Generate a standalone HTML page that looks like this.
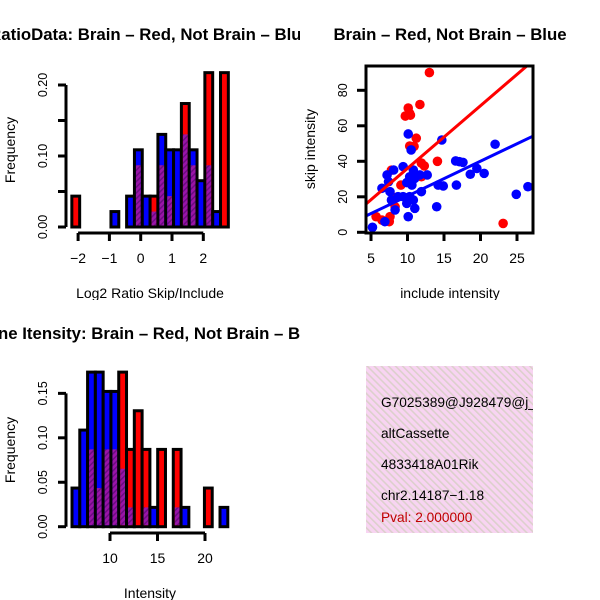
<!DOCTYPE html>
<html><head><meta charset="utf-8"><style>
html,body{margin:0;padding:0;background:#fff;}
svg{display:block;font-family:"Liberation Sans",sans-serif;}
</style></head><body>
<svg id="chart" width="600" height="600" viewBox="0 0 600 600" xmlns="http://www.w3.org/2000/svg">
<defs>
<pattern id="purp" patternUnits="userSpaceOnUse" width="4" height="4" patternTransform="rotate(45)">
<rect width="4" height="4" fill="#9a14a8"/><rect width="1.5" height="4" fill="#6c0c82"/></pattern>
<pattern id="pink" patternUnits="userSpaceOnUse" width="5" height="5" patternTransform="rotate(-45)">
<rect width="5" height="5" fill="#f8d4f2"/><rect width="1.6" height="5" fill="#dcd0cc"/></pattern>
<clipPath id="c1"><rect x="0" y="0" width="300" height="300"/></clipPath>
<clipPath id="c2"><rect x="300" y="0" width="300" height="300"/></clipPath>
<clipPath id="c3"><rect x="0" y="300" width="300" height="300"/></clipPath>
<clipPath id="c4"><rect x="366" y="366" width="167" height="167"/></clipPath>
<clipPath id="c2i"><rect x="366" y="66" width="167" height="167"/></clipPath>
</defs>
<g id="p1" clip-path="url(#c1)"></g>
<g id="p2" clip-path="url(#c2)"></g>
<g id="p3" clip-path="url(#c3)"></g>
<g id="p4">
<rect x="366" y="366" width="167" height="167" fill="url(#pink)"/>
<g clip-path="url(#c4)" font-size="13.7">
<text x="381" y="407">G7025389@J928479@j_</text>
<text x="381" y="438">altCassette</text>
<text x="381" y="469">4833418A01Rik</text>
<text x="381" y="500">chr2.14187−1.18</text>
<text x="381" y="522" fill="#c00000">Pval: 2.000000</text>
</g></g>
</svg>
<script>
// ---- Panel 1: log2 ratio histogram ----
const ratioStart = -2.2;
const ratioWidth = 0.25;
const ratioRed  = [2,0,0,0,0,0,0,0,4,0,2,4,2,0,8,4,0,10,0,10];
const ratioBlue = [0,0,0,0,0,1,0,2,5,2,1,6,5,5,6,5,3,4,1,0];
const ratioXTicks = [-2,-1,0,1,2];
const ratioXTickLabels = ["−2","−1","0","1","2"];
const ratioYTicks = [0,0.05,0.10,0.15,0.20];
const ratioYTickLabels = ["0.00","","0.10","","0.20"];
// ---- Panel 3: intensity histogram ----
const intStart = 6.0;
const intWidth = 0.82;
const intRed  = [0,0,4,2,4,4,8,4,6,4,0,4,0,4,0,0,0,2,0,0];
const intBlue = [2,5,8,8,7,7,3,1,0,1,1,0,0,1,1,0,0,0,0,1];
const intXTicks = [10,15,20];
const intXTickLabels = ["10","15","20"];
const intYTicks = [0,0.05,0.10,0.15];
const intYTickLabels = ["0.00","0.05","0.10","0.15"];
const countUnit = 1/46;
// ---- Panel 2: scatter ----
const redX = [13.0,10.1,10.3,9.7,10.4,11.7,11.2,10.3,10.9,14.1,11.9,12.3,11.9,9.1,8.1,8.3,5.7,6.5,7.5,7.6,23.1,7.8];
const redY = [90,70,67,65.5,66,72,53,48.6,48.4,40,39,37.4,31.3,26.6,19.7,14.4,8.8,6.9,6,8.8,5,35];
const blueX = [10.1,10.5,14.7,22.0,9.4,8.1,7.2,7.4,10.8,11.7,12.7,11,10.3,9.9,10.6,16.6,17.1,17.6,18.6,19.5,20.5,14.2,14.9,16.7,11.9,10.3,9.4,8.7,7.8,10.8,9.9,11,14,8.3,10.1,6.9,5.2,24.9,26.5,6.5,7.6];
const blueY = [55.4,46.4,52,49.6,37,35.1,32.3,28.5,35.1,32.3,32.3,30.4,31.3,28,26.6,40.2,39.8,39.4,32.7,36,33.2,26.6,26.1,26.6,22.9,20.1,20.1,20.1,18.2,18.2,16.3,13.5,14.4,12.6,8.8,6,2.8,21.4,25.7,24.8,22.9];
const fitIntercept = [0.7, 0.75];
const fitSlope = [3.53, 1.965];
const fitColor = ["#ff0000","#0000ff"];
const scXTicks = [5,10,15,20,25];
const scYTicks = [0,20,40,60,80];

const NS="http://www.w3.org/2000/svg";
const TICK_FS=14, YTICK_FS=12.5, AX_FS=14, TITLE_FS=16.8;
function mk(parent,tag,attrs){const e=document.createElementNS(NS,tag);for(const k in attrs)e.setAttribute(k,attrs[k]);parent.appendChild(e);return e;}
function txt(parent,x,y,s,opts){const e=mk(parent,'text',Object.assign({x:x,y:y},opts||{}));e.textContent=s;return e;}

function histogram(g, start, width, red, blue, xs, ys, xTicks, xLabels, yTicks, yLabels, axisY, prefix){
  const base=ys(0);
  for(let k=0;k<red.length;k++){
    const r=red[k]*countUnit, b=blue[k]*countUnit;
    if(r===0&&b===0) continue;
    const x0=xs(start+k*width), x1=xs(start+(k+1)*width);
    const mx=Math.max(r,b), mn=Math.min(r,b);
    const bar=mk(g,'rect',{x:x0,y:ys(mx),width:x1-x0,height:base-ys(mx),fill:r>=b?'#ff0000':'#0000ff',stroke:'#000','stroke-width':3});
    
    
    if(mn>0){
      const ov=mk(g,'rect',{x:x0+1.5,y:ys(mn),width:x1-x0-3,height:base-ys(mn)-1.5,fill:'url(#purp)'});
      
      
    }
  }
  const ya=mk(g,'g',{});
  
  
  mk(ya,'line',{x1:66,x2:66,y1:ys(yTicks[0]),y2:ys(yTicks[yTicks.length-1]),stroke:'#000','stroke-width':3});
  yTicks.forEach((t,i)=>{
    mk(ya,'line',{x1:58,x2:66,y1:ys(t),y2:ys(t),stroke:'#000','stroke-width':3});
    if(yLabels[i]) txt(ya,0,0,yLabels[i],{'font-size':YTICK_FS,'text-anchor':'middle',transform:`translate(47,${ys(t)}) rotate(-90)`});
  });
  const xa=mk(g,'g',{});
  
  
  mk(xa,'line',{x1:xs(xTicks[0]),x2:xs(xTicks[xTicks.length-1]),y1:axisY,y2:axisY,stroke:'#000','stroke-width':3});
  xTicks.forEach((t,i)=>{
    mk(xa,'line',{x1:xs(t),x2:xs(t),y1:axisY,y2:axisY+8,stroke:'#000','stroke-width':3});
    txt(xa,xs(t),axisY+30,xLabels[i],{'font-size':TICK_FS,'text-anchor':'middle'});
  });
}

// Panel 1
const p1=document.getElementById('p1');
const xs1=v=>140.7+(v*31.3);
const ys1=v=>227-v*710;
histogram(p1,ratioStart,ratioWidth,ratioRed,ratioBlue,xs1,ys1,ratioXTicks,ratioXTickLabels,ratioYTicks,ratioYTickLabels,233,'ratio');
txt(p1,150,40,"RatioData: Brain – Red, Not Brain – Blue",{'font-size':TITLE_FS,'font-weight':'bold','text-anchor':'middle',});
txt(p1,150,298,"Log2 Ratio Skip/Include",{'font-size':AX_FS,'text-anchor':'middle',});
txt(p1,0,0,"Frequency",{'font-size':AX_FS,'text-anchor':'middle',transform:'translate(15,150) rotate(-90)',});

// Panel 3
const p3=document.getElementById('p3');
const xs3=v=>110+(v-10)*9.5;
const ys3=v=>526.7-v*888.9;
histogram(p3,intStart,intWidth,intRed,intBlue,xs3,ys3,intXTicks,intXTickLabels,intYTicks,intYTickLabels,533,'intensity');
txt(p3,150,339,"Gene Itensity: Brain – Red, Not Brain – Blue",{'font-size':TITLE_FS,'font-weight':'bold','text-anchor':'middle',});
txt(p3,150,598,"Intensity",{'font-size':AX_FS,'text-anchor':'middle',});
txt(p3,0,0,"Frequency",{'font-size':AX_FS,'text-anchor':'middle',transform:'translate(15,450) rotate(-90)',});

// Panel 2
const p2=document.getElementById('p2');
const xs2=v=>371+(v-5)*7.3;
const ys2=v=>232.3-v*1.775;
const pa=mk(p2,'g',{'clip-path':'url(#c2i)'});
redX.forEach((x,i)=>{
  const c=mk(pa,'circle',{cx:xs2(x),cy:ys2(redY[i]),r:4.8,fill:'#ff0000'});
  
  
});
blueX.forEach((x,i)=>{
  const c=mk(pa,'circle',{cx:xs2(x),cy:ys2(blueY[i]),r:4.8,fill:'#0000ff'});
  
  
});
fitSlope.forEach((s,i)=>{
  const xa=3, xb=29;
  const l=mk(pa,'line',{x1:xs2(xa),y1:ys2(fitIntercept[i]+s*xa),x2:xs2(xb),y2:ys2(fitIntercept[i]+s*xb),stroke:fitColor[i],'stroke-width':3});
  
  
});
mk(p2,'rect',{x:366,y:66,width:167,height:167,fill:'none',stroke:'#000','stroke-width':3,});
scXTicks.forEach(t=>{
  mk(p2,'line',{x1:xs2(t),x2:xs2(t),y1:233,y2:241,stroke:'#000','stroke-width':3});
  txt(p2,xs2(t),263,String(t),{'font-size':TICK_FS,'text-anchor':'middle'});
});
scYTicks.forEach(t=>{
  mk(p2,'line',{x1:357,x2:366,y1:ys2(t),y2:ys2(t),stroke:'#000','stroke-width':3});
  txt(p2,0,0,String(t),{'font-size':YTICK_FS,'text-anchor':'middle',transform:`translate(347,${ys2(t)}) rotate(-90)`});
});
txt(p2,450,40,"Brain – Red, Not Brain – Blue",{'font-size':TITLE_FS,'font-weight':'bold','text-anchor':'middle',});
txt(p2,450,298,"include intensity",{'font-size':AX_FS,'text-anchor':'middle',});
txt(p2,0,0,"skip intensity",{'font-size':AX_FS,'text-anchor':'middle',transform:'translate(315,149) rotate(-90)',});
</script>
</body></html>
